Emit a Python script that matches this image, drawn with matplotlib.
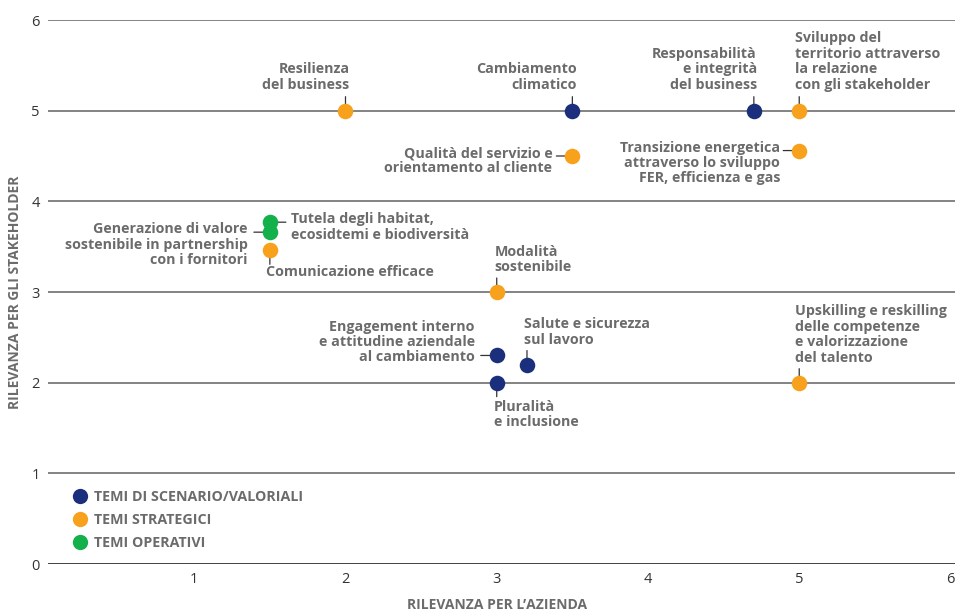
import matplotlib
matplotlib.use("Agg")
import matplotlib.pyplot as plt
from matplotlib.lines import Line2D

plt.rcParams['font.family'] = ['Open Sans', 'DejaVu Sans']

# --- data ---
temi = [
    "Resilienza\ndel business",
    "Cambiamento\nclimatico",
    "Responsabilità\ne integrità\ndel business",
    "Sviluppo del\nterritorio attraverso\nla relazione\ncon gli stakeholder",
    "Qualità del servizio e\norientamento al cliente",
    "Transizione energetica\nattraverso lo sviluppo\nFER, efficienza e gas",
    "Tutela degli habitat,\necosidtemi e biodiversità",
    "Generazione di valore\nsostenibile in partnership\ncon i fornitori",
    "Comunicazione efficace",
    "Modalità\nsostenibile",
    "Engagement interno\ne attitudine aziendale\nal cambiamento",
    "Salute e sicurezza\nsul lavoro",
    "Pluralità\ne inclusione",
    "Upskilling e reskilling\ndelle competenze\ne valorizzazione\ndel talento",
]
rilevanza_azienda = [2.0, 3.5, 4.7, 5.0, 3.5, 5.0, 1.5, 1.5, 1.5, 3.0, 3.0, 3.2, 3.0, 5.0]
rilevanza_stakeholder = [5.0, 5.0, 5.0, 5.0, 4.5, 4.56, 3.77, 3.66, 3.46, 3.0, 2.3, 2.2, 2.0, 2.0]
categoria = ["S", "V", "V", "S", "S", "S", "O", "O", "S", "S", "V", "V", "V", "S"]

categorie = ["V", "S", "O"]
nomi_categorie = ["TEMI DI SCENARIO/VALORIALI", "TEMI STRATEGICI", "TEMI OPERATIVI"]
colori = {"V": "#1b2f7c", "S": "#f7a11c", "O": "#13b04b"}

# label placement: (text dx px, text dy px, ha, va, leader side)
PX = 0.72
layout = [
    (4, 19, "right", "bottom", "up"),
    (4, 19, "right", "bottom", "up"),
    (3, 19, "right", "bottom", "up"),
    (-4, 19, "left", "bottom", "up"),
    (-20, 10, "right", "top", "left"),
    (-19, 10, "right", "top", "left"),
    (21, 10, "left", "top", "right"),
    (-22, 10, "right", "top", "left"),
    (-4, -15, "left", "top", "down"),
    (-2, 18, "left", "bottom", "up"),
    (-22, -9, "right", "bottom", "left"),
    (-3, 18, "left", "bottom", "up"),
    (-3, -17, "left", "top", "down"),
    (-4, 18, "left", "bottom", "up"),
]
leader = {"up": (0, 14), "down": (0, -14), "left": (-16, 0), "right": (16, 0)}

grey_text = "#6b6b6b"

fig = plt.figure(figsize=(9.68, 6.10), dpi=100)
ax = fig.add_axes([48 / 968, 46 / 610, 907 / 968, 544 / 610])
ax.set_xlim(0.033, 6.03)
ax.set_ylim(0, 6)

for s in ax.spines.values():
    s.set_visible(False)
for yv in range(1, 7):
    ax.axhline(yv, color="#7a7a7a", lw=1.3, zorder=0)
ax.axhline(0, color="#333333", lw=1.3, zorder=0)

ax.set_xticks([1, 2, 3, 4, 5, 6])
ax.set_yticks([0, 1, 2, 3, 4, 5, 6])
ax.tick_params(axis="x", length=0, pad=6, labelsize=10.5, labelcolor="#333333")
ax.tick_params(axis="y", length=0, pad=6, labelsize=10.5, labelcolor="#333333")

for cat in categorie:
    xs = [x for x, c in zip(rilevanza_azienda, categoria) if c == cat]
    ys = [y for y, c in zip(rilevanza_stakeholder, categoria) if c == cat]
    ax.scatter(xs, ys, s=125, color=colori[cat], zorder=5, linewidths=0)

for txt, x, y, (dx, dy, ha, va, side) in zip(temi, rilevanza_azienda, rilevanza_stakeholder, layout):
    lx, ly = leader[side]
    ax.annotate("", xy=(x, y), xytext=(lx * PX, ly * PX), textcoords="offset points",
                arrowprops=dict(arrowstyle="-", color="#333333", lw=0.9, shrinkA=0, shrinkB=0),
                zorder=3)
    ax.annotate(txt, xy=(x, y), xytext=(dx * PX, dy * PX), textcoords="offset points",
                ha=ha, va=va, fontsize=10.3, fontweight="bold", color=grey_text,
                linespacing=1.13, multialignment=ha, zorder=6)

handles = [Line2D([], [], marker="o", linestyle="", markersize=11, color=colori[c], markeredgewidth=0)
           for c in categorie]
ax.legend(handles, nomi_categorie, loc="upper left", bbox_to_anchor=(0.019, 0.146),
          frameon=False, handletextpad=0.4, labelspacing=0.62, borderaxespad=0,
          handlelength=1.2, prop=dict(weight="bold", size=10.3), labelcolor=grey_text)

ax.set_xlabel("RILEVANZA PER L’AZIENDA", fontsize=10, fontweight="bold", color=grey_text)
ax.set_ylabel("RILEVANZA PER GLI STAKEHOLDER", fontsize=10, fontweight="bold", color=grey_text)
ax.xaxis.set_label_coords((497 - 48) / 907, -0.062)
ax.yaxis.set_label_coords(-0.029, 0.5)

fig.savefig("out.png", dpi=100)
